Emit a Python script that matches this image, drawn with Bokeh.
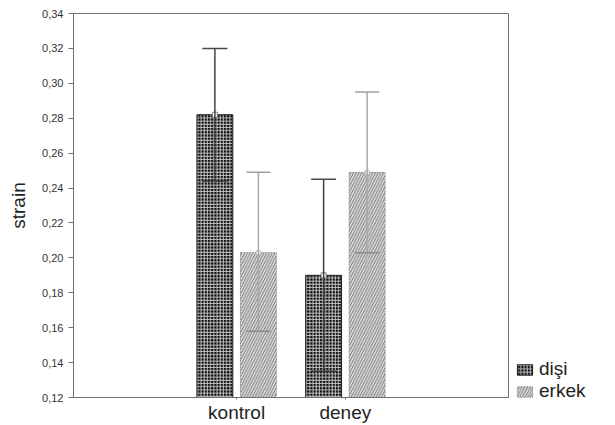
from bokeh.plotting import figure
from bokeh.models import (Range1d, FixedTicker, CustomJSTickFormatter, Whisker, TeeHead,
                          ColumnDataSource, Legend, LegendItem)
from bokeh.embed import file_html
from bokeh.resources import INLINE

categories = ["kontrol", "deney"]
disi_mean = [0.282, 0.190]
disi_upper = [0.320, 0.245]
disi_lower = [0.244, 0.135]
erkek_mean = [0.203, 0.249]
erkek_upper = [0.249, 0.295]
erkek_lower = [0.158, 0.203]
y_ticks = [0.12, 0.14, 0.16, 0.18, 0.20, 0.22, 0.24, 0.26, 0.28, 0.30, 0.32, 0.34]

FONT = "Liberation Sans"
cat_x = [1.5 + i for i in range(len(categories))]
off = 0.2
bw = 0.33

p = figure(frame_width=435, frame_height=384, output_backend="svg", toolbar_location=None,
           x_range=Range1d(0, 4), y_range=Range1d(0.12, 0.34),
           min_border_left=73, min_border_right=0, min_border_top=13, min_border_bottom=28)
p.xgrid.visible = False
p.ygrid.visible = False
p.outline_line_color = "#707070"
p.outline_line_width = 1
p.background_fill_color = "white"
p.border_fill_color = "white"

src_d = ColumnDataSource(dict(x=[c - off for c in cat_x], top=disi_mean, up=disi_upper, lo=disi_lower))
src_e = ColumnDataSource(dict(x=[c + off for c in cat_x], top=erkek_mean, up=erkek_upper, lo=erkek_lower))

r_d = p.vbar(x="x", top="top", bottom=0.12, width=bw, source=src_d,
             fill_color="#0c0c0c", line_color="#202020", line_width=1,
             hatch_pattern="cross", hatch_color="white", hatch_scale=3.2, hatch_weight=1, hatch_alpha=0.75)
r_e = p.vbar(x="x", top="top", bottom=0.12, width=bw, source=src_e,
             fill_color="#dcdcdc", line_color="#909090", line_width=1, line_dash="2 1",
             hatch_pattern="right_diagonal_line", hatch_color="#6a6a6a", hatch_scale=5.5, hatch_weight=0.9)

wd = Whisker(base="x", upper="up", lower="lo", source=src_d, line_color="#404040", line_width=1.5,
             level="overlay",
             upper_head=TeeHead(size=25, line_color="#484848", line_width=1.5),
             lower_head=TeeHead(size=25, line_color="#303030", line_width=1.5))
we = Whisker(base="x", upper="up", lower="lo", source=src_e, line_color="#a8a8a8", line_width=1.5,
             level="overlay",
             upper_head=TeeHead(size=24, line_color="#a0a0a0", line_width=1.5),
             lower_head=TeeHead(size=24, line_color="#8a8a8a", line_width=1.5))
p.add_layout(wd)
p.add_layout(we)

p.scatter(x="x", y="top", source=src_d, marker="square", size=5, fill_color="white", line_color="#808080",
          level="overlay")
p.scatter(x="x", y="top", source=src_e, marker="square", size=4, fill_color="white", line_color="#c0c0c0",
          level="overlay")

# y axis
p.yaxis.ticker = FixedTicker(ticks=y_ticks)
p.yaxis.formatter = CustomJSTickFormatter(code="return tick.toFixed(2).replace('.', ',');")
p.yaxis.axis_label = "strain"
p.yaxis.axis_label_text_font = FONT
p.yaxis.axis_label_text_font_style = "normal"
p.yaxis.axis_label_text_font_size = "19px"
p.yaxis.axis_label_text_color = "#222222"
p.yaxis.axis_label_standoff = 10
p.yaxis.major_label_text_font = FONT
p.yaxis.major_label_text_font_size = "11px"
p.yaxis.major_label_text_color = "#333333"
p.yaxis.major_tick_out = 5
p.yaxis.major_tick_in = 0
p.yaxis.minor_tick_line_color = None
p.yaxis.axis_line_color = "#707070"
p.yaxis.major_tick_line_color = "#707070"

# x axis
p.xaxis.ticker = FixedTicker(ticks=cat_x)
p.xaxis.major_label_overrides = {cat_x[i]: categories[i] for i in range(len(categories))}
p.xaxis.major_label_text_font = FONT
p.xaxis.major_label_text_font_size = "19px"
p.xaxis.major_label_text_color = "#222222"
p.xaxis.major_tick_out = 2
p.xaxis.major_tick_in = 0
p.xaxis.major_label_standoff = 2
p.xaxis.minor_tick_line_color = None
p.xaxis.axis_line_color = "#707070"
p.xaxis.major_tick_line_color = "#707070"

legend = Legend(items=[LegendItem(label="dişi", renderers=[r_d]),
                       LegendItem(label="erkek", renderers=[r_e])],
                location=(7, -5), orientation="vertical",
                background_fill_alpha=0, border_line_color=None,
                label_text_font=FONT, label_text_font_size="19px", label_text_color="#222222",
                glyph_width=19, glyph_height=13, spacing=0, padding=0, margin=0,
                label_standoff=5, label_height=17)
p.add_layout(legend, "right")
p.min_border_right = 8

open("out.html", "w").write(file_html(p, INLINE))
